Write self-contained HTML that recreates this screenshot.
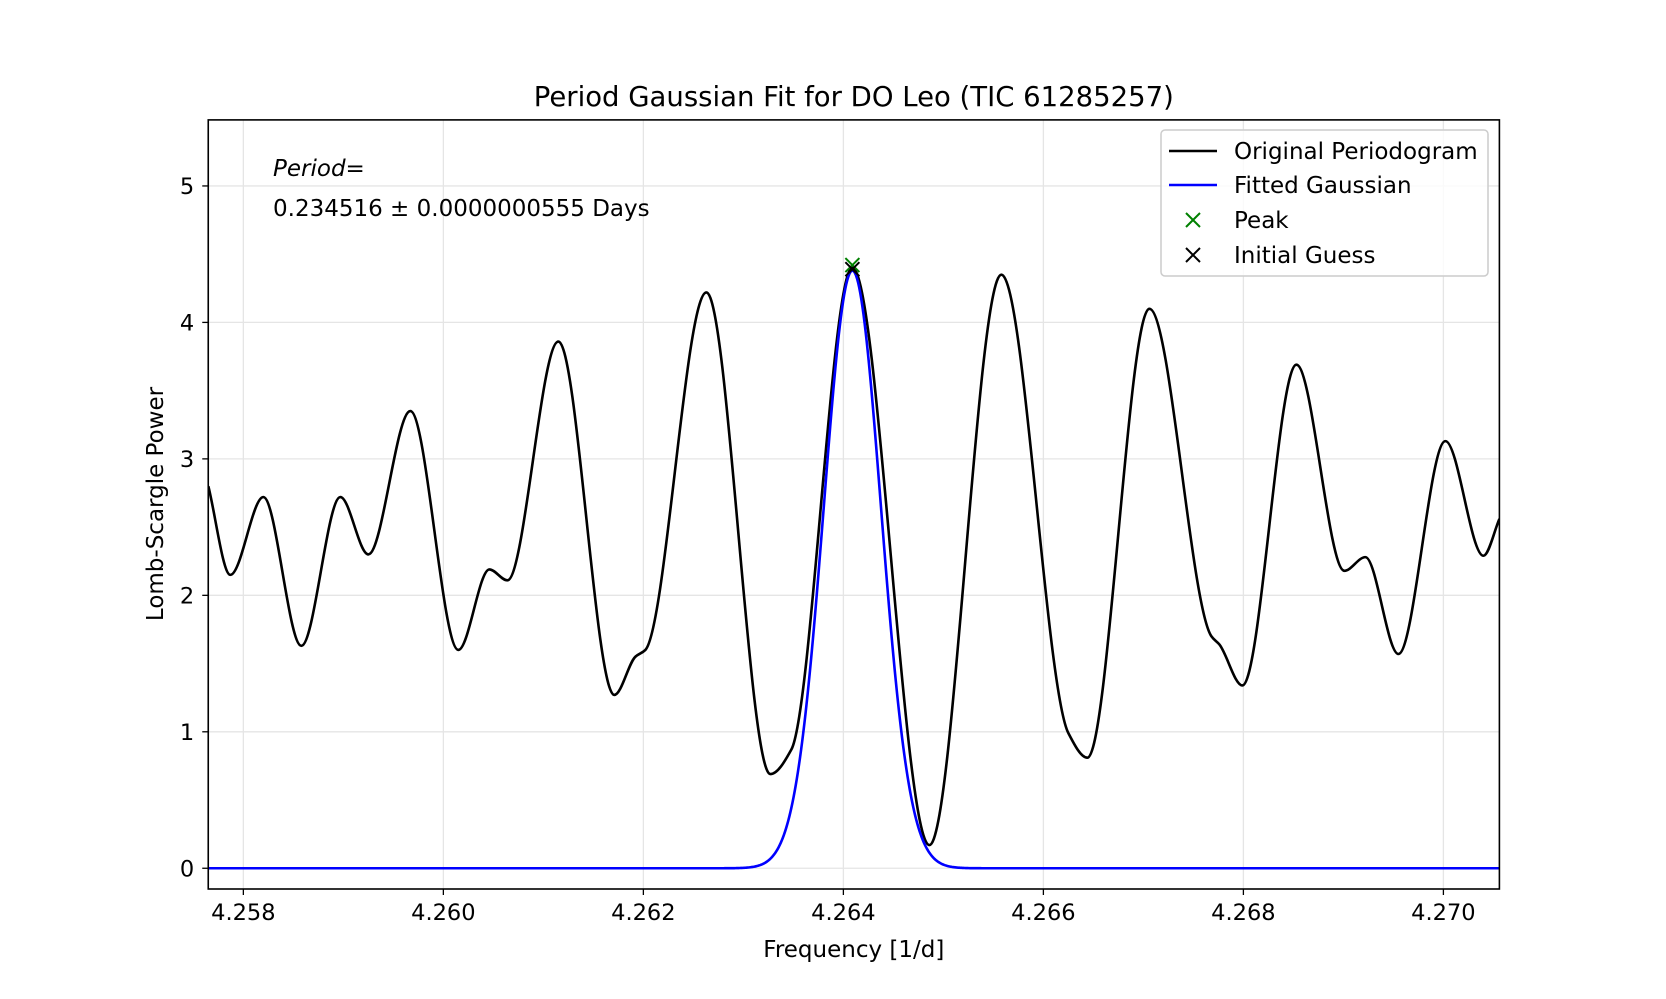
<!DOCTYPE html>
<html><head><meta charset="utf-8"><style>
html,body{margin:0;padding:0;background:#fff}
svg{display:block}
text{font-family:"DejaVu Sans","Liberation Sans",sans-serif;fill:#000}
</style></head><body>
<svg id="chart" width="1666" height="999" viewBox="0 0 1666 999" xmlns="http://www.w3.org/2000/svg">
<text x="853.8" y="106" font-size="27.5" text-anchor="middle">Period Gaussian Fit for DO Leo (TIC 61285257)</text>
<g id="grid"></g>
<g id="plot"></g>
<g id="axes"></g>
<text x="853.8" y="957" font-size="23" text-anchor="middle">Frequency [1/d]</text>
<text transform="translate(163,504) rotate(-90)" font-size="23" text-anchor="middle">Lomb-Scargle Power</text>
<text x="273" y="176" font-size="23" font-style="italic">Period<tspan font-style="normal">=</tspan></text>
<text x="273" y="216" font-size="23">0.234516 ± 0.0000000555 Days</text>
<g>
<rect x="1161" y="130" width="327" height="146" rx="4" fill="#fff" fill-opacity="0.8" stroke="#ccc" stroke-width="1.5"/>
<g><line x1="1169" y1="151" x2="1217" y2="151" stroke="#000" stroke-width="2.5"/><text x="1234" y="159" font-size="23">Original Periodogram</text></g>
<g><line x1="1169" y1="185" x2="1217" y2="185" stroke="#00f" stroke-width="2.5"/><text x="1234" y="193" font-size="23">Fitted Gaussian</text></g>
<g><path d="M1186,213 l14,14 M1200,213 l-14,14" stroke="green" stroke-width="2"/><text x="1234" y="228" font-size="23">Peak</text></g>
<g><path d="M1186,248 l14,14 M1200,248 l-14,14" stroke="#000" stroke-width="2"/><text x="1234" y="263" font-size="23">Initial Guess</text></g>
</g>
</svg>
<script>
const freqs=[4.25765,4.25787,4.25820,4.25858,4.25897,4.25925,4.25967,4.26015,4.26046,4.26064,4.26115,4.26171,4.26192,4.26202,4.26263,4.26327,4.26348,4.26409,4.26486,4.26558,4.26625,4.26644,4.26706,4.26768,4.26776,4.26799,4.26853,4.26901,4.26922,4.26955,4.27002,4.27040,4.27056];
const powers=[2.80,2.15,2.72,1.63,2.72,2.30,3.35,1.60,2.19,2.11,3.86,1.27,1.55,1.60,4.22,0.69,0.87,4.40,0.17,4.35,0.99,0.81,4.10,1.70,1.64,1.34,3.69,2.18,2.28,1.57,3.13,2.29,2.56];
const gaussAmp=[4.38];
const gaussMu=[4.26409];
const gaussSigma=[0.000285];
const peakPoint=[4.26409,4.42];
const guessPoint=[4.26409,4.39];
const xTicks=[4.258,4.260,4.262,4.264,4.266,4.268,4.270];
const xTickLabels=["4.258","4.260","4.262","4.264","4.266","4.268","4.270"];
const yTicks=[0,1,2,3,4,5];
const yTickLabels=["0","1","2","3","4","5"];

const L=208.25,R=1499.4,T=119.9,B=889;
const X0=4.257649,X1=4.27056,Y0=-0.152,Y1=5.484;
const sx=v=>L+(v-X0)/(X1-X0)*(R-L);
const sy=v=>B-(v-Y0)/(Y1-Y0)*(B-T);
const NS="http://www.w3.org/2000/svg";
function mk(tag,attrs,parent){const e=document.createElementNS(NS,tag);for(const k in attrs)e.setAttribute(k,attrs[k]);parent.appendChild(e);return e;}
const grid=document.getElementById('grid'),plot=document.getElementById('plot'),axes=document.getElementById('axes');

const defs=mk('defs',{},document.getElementById('chart'));
const cp=mk('clipPath',{id:'clip'},defs);mk('rect',{x:L,y:T,width:R-L,height:B-T},cp);
plot.setAttribute('clip-path','url(#clip)');

xTicks.forEach((t,i)=>{
 const g=mk('line',{x1:sx(t),x2:sx(t),y1:T,y2:B,stroke:'#e5e5e5','stroke-width':1.3},grid);
 
 const tk=mk('line',{x1:sx(t),x2:sx(t),y1:B,y2:B+6,stroke:'#000','stroke-width':1.3},axes);
 
 const tx=mk('text',{x:sx(t),y:B+31,'font-size':22.5,'text-anchor':'middle'},axes);tx.textContent=xTickLabels[i];
 
});
yTicks.forEach((t,i)=>{
 const g=mk('line',{x1:L,x2:R,y1:sy(t),y2:sy(t),stroke:'#e5e5e5','stroke-width':1.3},grid);
 
 const tk=mk('line',{x1:L-6,x2:L,y1:sy(t),y2:sy(t),stroke:'#000','stroke-width':1.3},axes);
 
 const tx=mk('text',{x:L-14,y:sy(t)+8,'font-size':22.5,'text-anchor':'end'},axes);tx.textContent=yTickLabels[i];
 
});
const fr=mk('rect',{x:L,y:T,width:R-L,height:B-T,fill:'none',stroke:'#000','stroke-width':1.6},axes);


function monotone(xs,ys){
 const n=xs.length,d=[],m=new Array(n);
 for(let i=0;i<n-1;i++)d.push((ys[i+1]-ys[i])/(xs[i+1]-xs[i]));
 m[0]=d[0];m[n-1]=d[n-2];
 for(let i=1;i<n-1;i++){m[i]=(d[i-1]*d[i]<=0)?0:3*(xs[i+1]-xs[i-1])/((2*xs[i+1]-xs[i]-xs[i-1])/d[i-1]+(xs[i+1]+xs[i]-2*xs[i-1])/d[i]);}
 let p='M'+sx(xs[0])+','+sy(ys[0]);
 for(let i=0;i<n-1;i++){const h=xs[i+1]-xs[i];
  p+=' C'+sx(xs[i]+h/3)+','+sy(ys[i]+m[i]*h/3)+' '+sx(xs[i+1]-h/3)+','+sy(ys[i+1]-m[i+1]*h/3)+' '+sx(xs[i+1])+','+sy(ys[i+1]);}
 return p;
}
const orig=mk('path',{d:monotone(freqs,powers),fill:'none',stroke:'#000','stroke-width':2.6},plot);


let gp='';
for(let i=0;i<=1200;i++){const f=X0+(X1-X0)*i/1200;const v=gaussAmp[0]*Math.exp(-((f-gaussMu[0])**2)/(2*gaussSigma[0]**2));gp+=(i?'L':'M')+sx(f).toFixed(2)+','+sy(v).toFixed(2);}
const ga=mk('path',{d:gp,fill:'none',stroke:'#00f','stroke-width':2.6},plot);


function cross(pt,col,name){const x=sx(pt[0]),y=sy(pt[1]);
 const c=mk('path',{d:`M${x-7},${y-7} l14,14 M${x+7},${y-7} l-14,14`,stroke:col,'stroke-width':2},plot);
 }
cross(peakPoint,'green','peak-marker');
cross(guessPoint,'#000','initial-guess-marker');
</script>
</body></html>
